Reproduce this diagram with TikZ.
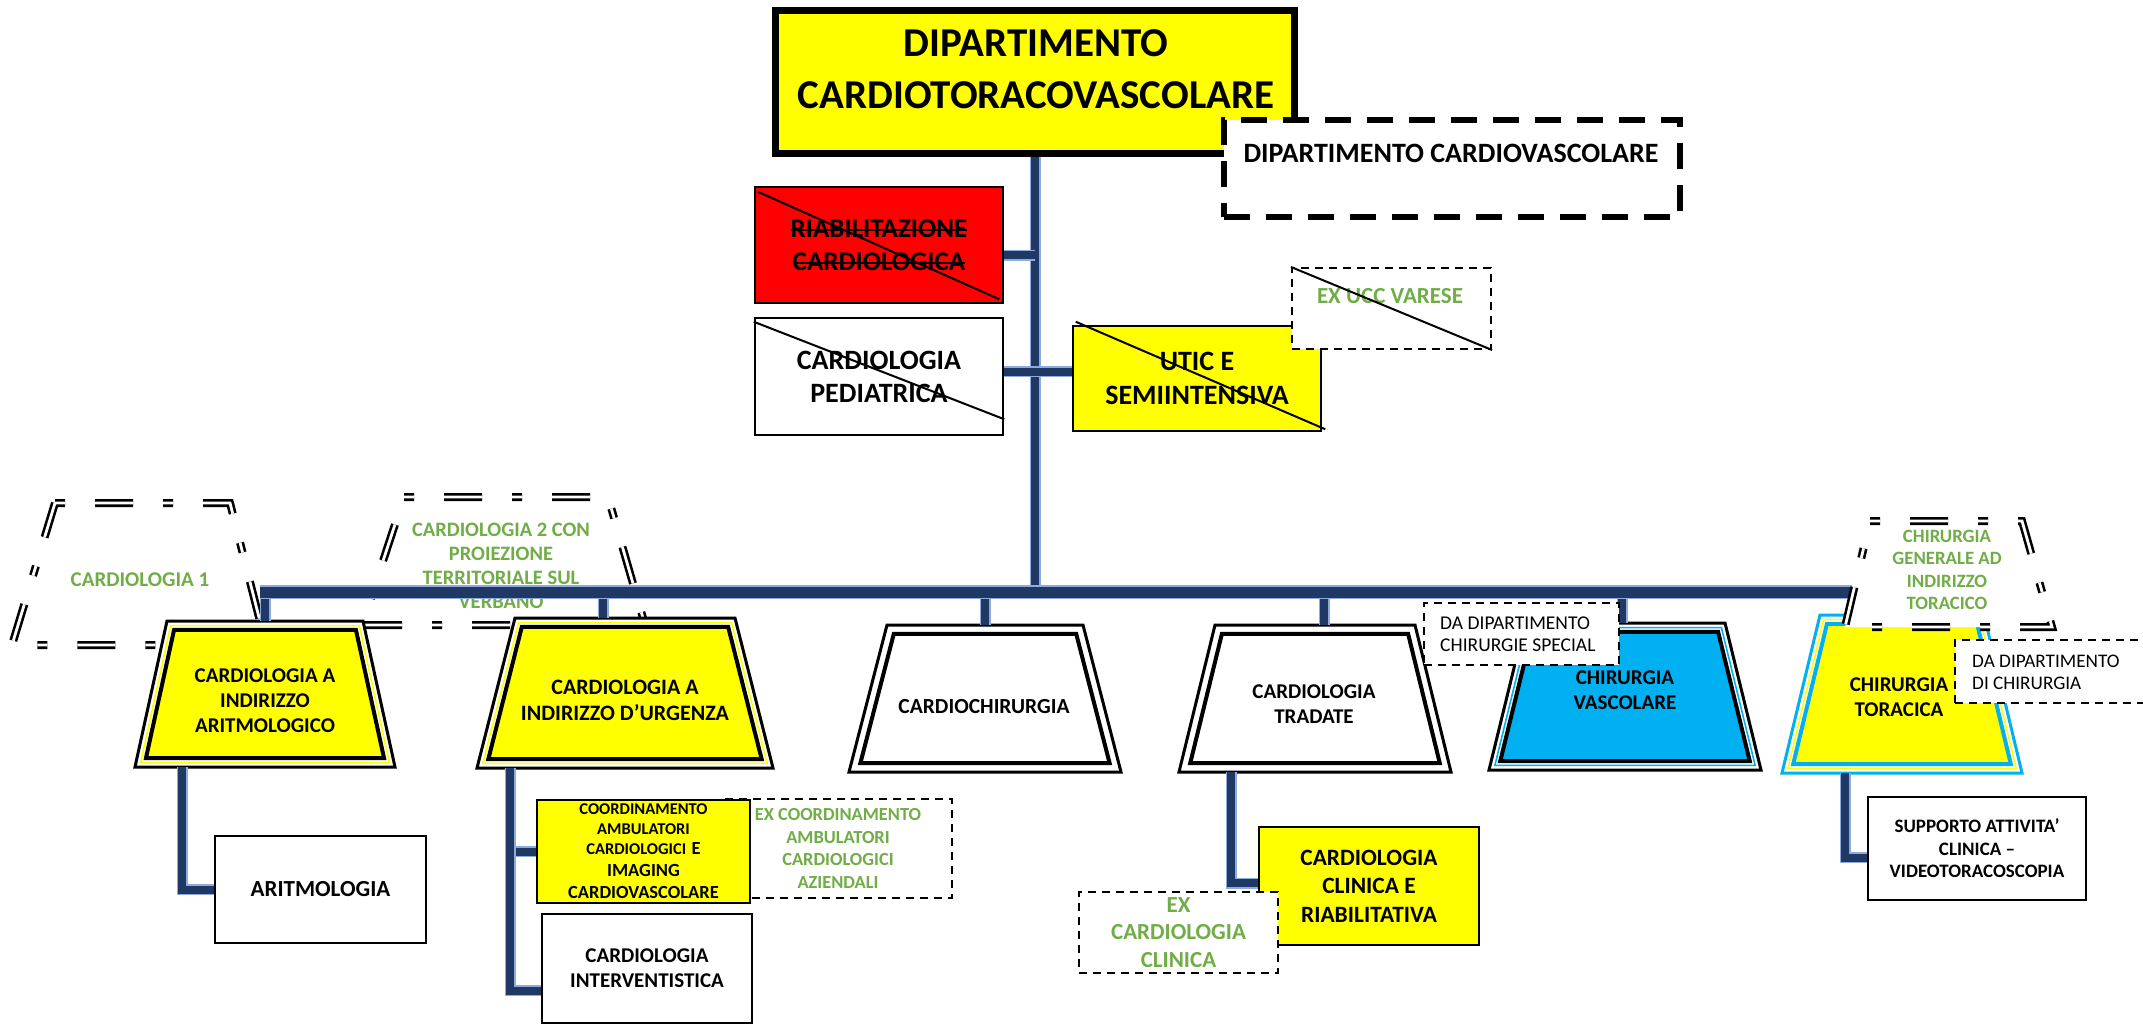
\documentclass[tikz,border=0pt]{standalone}
\usepackage{fontspec}
\setmainfont{Carlito}
\definecolor{ygold}{HTML}{FFFF00}
\definecolor{rred}{HTML}{FF0000}
\definecolor{cyanb}{HTML}{00B0F0}
\definecolor{gtext}{HTML}{70AD47}
\definecolor{pipecore}{HTML}{1F3864}
\definecolor{pipeedge}{HTML}{8FAADC}
\newcommand\fsz[2]{\fontsize{#1}{#2}\selectfont}
\newcommand\strk[1]{\setbox0\hbox{#1}\rlap{\vrule width \wd0 height 8.4pt depth -6.6pt}\box0}
\newcommand\trapcalc[6]{%
 \pgfmathsetmacro\trS{(#5-#4)/(#3-#2)}%
 \pgfmathsetmacro\trK{sqrt(1+\trS*\trS)}%
 \pgfmathsetmacro\trHT{#4+\trS*#6-#6*\trK}%
 \pgfmathsetmacro\trHB{#5-\trS*#6-#6*\trK}%
 \pgfmathsetmacro\trYT{#2+#6}%
 \pgfmathsetmacro\trYB{#3-#6}%
 \pgfmathsetmacro\trXL{#1-\trHT}%
 \pgfmathsetmacro\trXR{#1+\trHT}%
 \pgfmathsetmacro\trBL{#1-\trHB}%
 \pgfmathsetmacro\trBR{#1+\trHB}%
}
\newcommand\trapdraw[1]{\draw[#1] (\trXL,\trYT) -- (\trXR,\trYT) -- (\trBR,\trYB) -- (\trBL,\trYB) -- cycle;}
\newcommand\trapnode[9]{%
 \trapcalc{#2}{#3}{#4}{#5}{#6}{0}\trapdraw{draw=#7, line width=3pt, fill=white}%
 \trapcalc{#2}{#3}{#4}{#5}{#6}{4.6}\trapdraw{draw=#8, line width=1.6pt}%
 \trapcalc{#2}{#3}{#4}{#5}{#6}{8.8}\trapdraw{draw=#9, line width=4pt, fill=#8}%
 \node[inner sep=0pt, minimum width={2*#6}, minimum height={#4-#3}] (#1) at (#2,{(#3+#4)/2}) {};%
}
\tikzset{
 lbl/.style={align=center, inner sep=0pt},
 gtxt/.style={align=center, inner sep=0pt, text=gtext},
 sbox/.style={draw=black, line width=2.5pt, inner sep=0pt, align=center},
 dbox/.style={draw=black, line width=2pt, dash pattern=on 8pt off 6pt, fill=white, inner sep=0pt, align=center},
 ghost/.style={draw=black, line width=2.6pt, double=white, double distance=2.8pt, dash pattern=on 10pt off 30pt on 38pt off 30pt, fill=white},
 pipe/.style={draw=pipeedge, line width=1.5pt, double=pipecore, double distance=8pt},
 bigpipe/.style={draw=pipeedge, line width=1.8pt, double=pipecore, double distance=11pt},
 crossline/.style={draw=black, line width=2pt}
}
\begin{document}
\begin{tikzpicture}[x=1pt,y=-1pt]
\useasboundingbox[fill=white] (0,0) rectangle (2143,1026);
% ghost trapezoids
\draw[ghost] (55,503) -- (230,503) -- (266,645) -- (12,645) -- cycle;
\draw[ghost] (404,497) -- (608,497) -- (645,625) -- (362,625) -- cycle;
\node[gtxt, font=\bfseries\fsz{21}{25}] (card1) at (140,580) {CARDIOLOGIA 1};
\node[gtxt, font=\bfseries\fsz{20.5}{24}] (card2) at (501,566) {CARDIOLOGIA 2 CON\\PROIEZIONE\\TERRITORIALE SUL\\VERBANO};
% title
\node[draw=black, line width=7pt, fill=ygold, minimum width=519pt, minimum height=143pt, inner sep=0pt] (title) at (1035,82) {};
\node[lbl, font=\bfseries\fsz{41}{52}] (titletxt) at (1036,69) {DIPARTIMENTO\\CARDIOTORACOVASCOLARE};
\node[draw=black, line width=6pt, dash pattern=on 26pt off 16pt, fill=white, minimum width=456pt, minimum height=97pt, inner sep=0pt] (dcv) at (1452,168.5) {};
\node[lbl, font=\bfseries\fsz{28}{33}] (dcvtxt) at (1451,153) {DIPARTIMENTO CARDIOVASCOLARE};
% upper boxes
\node[sbox, fill=rred, minimum width=248pt, minimum height=116pt, font=\bfseries\fsz{27}{33}] (riab) at (879,245) {\strk{RIABILITAZIONE}\\\strk{CARDIOLOGICA}};
\draw[crossline] ([shift={(4,6)}]riab.north west) -- ([shift={(-5,-5)}]riab.south east);
\node[sbox, fill=white, minimum width=248pt, minimum height=117pt, font=\bfseries\fsz{28}{33}] (ped) at (879,376.5) {CARDIOLOGIA\\PEDIATRICA};
\draw[crossline] ([yshift=-5pt]ped.north west) -- ([yshift=17pt]ped.south east);
\node[sbox, fill=ygold, minimum width=248pt, minimum height=105pt, font=\bfseries\fsz{28}{34}] (utic) at (1197,378.5) {UTIC E\\SEMIINTENSIVA};
\draw[crossline] ([shift={(4,-3)}]utic.north west) -- ([shift={(3,-3)}]utic.south east);
\node[dbox, minimum width=199pt, minimum height=81pt] (exucc) at (1391.5,308.5) {};
\node[gtxt, font=\bfseries\fsz{23}{27}] (exucctxt) at (1390,296) {EX UCC VARESE};
\draw[crossline] (exucc.north west) -- (exucc.south east);
% trapezoids
\trapnode{aritm}{265}{621}{767}{98}{130}{black}{ygold}{black}
\node[lbl, font=\bfseries\fsz{21}{25}] (aritmtxt) at (265,701) {CARDIOLOGIA A\\INDIRIZZO\\ARITMOLOGICO};
\trapnode{urg}{625}{618}{768}{110}{148}{black}{ygold}{black}
\node[lbl, font=\bfseries\fsz{22}{26}] (urgtxt) at (625,700) {CARDIOLOGIA A\\INDIRIZZO D’URGENZA};
\trapnode{cchir}{985}{625}{772}{98}{136}{black}{white}{black}
\node[lbl, font=\bfseries\fsz{21.5}{25}] (cchirtxt) at (984,707) {CARDIOCHIRURGIA};
\trapnode{trad}{1315}{625}{772}{100}{136}{black}{white}{black}
\node[lbl, font=\bfseries\fsz{21}{25}] (tradtxt) at (1314,704) {CARDIOLOGIA\\TRADATE};
\trapnode{vasc}{1625}{623}{770}{100}{136}{black}{cyanb}{black}
\node[lbl, font=\bfseries\fsz{21}{25}] (vasctxt) at (1625,690) {CHIRURGIA\\VASCOLARE};
\trapnode{torac}{1902}{615}{773}{82}{120}{cyanb}{ygold}{cyanb}
\node[lbl, font=\bfseries\fsz{21}{25}] (toractxt) at (1899,697) {CHIRURGIA\\TORACICA};
% pipes
\coordinate (barL) at (260,592);
\coordinate (barR) at (1852,592);
\draw[pipe] (title.south) -- (title.south |- barL);
\draw[pipe] ([yshift=-10pt]riab.east) -- ([yshift=-10pt]riab.east -| title.south);
\draw[pipe] ([yshift=5pt]ped.east) -- ([yshift=5pt]ped.east -| utic.west);
\draw[pipe] (aritm.north |- barL) -- (aritm.north);
\draw[pipe] ([xshift=-22pt]urg.north |- barL) -- ([xshift=-22pt]urg.north);
\draw[pipe] (cchir.north |- barL) -- (cchir.north);
\draw[pipe] ([xshift=9pt]trad.north |- barL) -- ([xshift=9pt]trad.north);
\draw[pipe] ([xshift=-3pt]vasc.north |- barL) -- ([xshift=-3pt]vasc.north);
\draw[bigpipe] (barL) -- (barR);
\node[dbox, minimum width=195pt, minimum height=62pt] (dachs) at (1521.5,634) {};
\node[anchor=west, align=left, inner sep=0pt, font=\fsz{19.5}{22.5}] (dachstxt) at (1440,634) {DA DIPARTIMENTO\\CHIRURGIE SPECIAL};
% ghost C
\draw[ghost] (1870,521) -- (2022,521) -- (2052,627) -- (1845,627) -- cycle;
\node[gtxt, font=\bfseries\fsz{18.8}{22.5}] (cgen) at (1947,570) {CHIRURGIA\\GENERALE AD\\INDIRIZZO\\TORACICO};
\node[dbox, minimum width=200pt, minimum height=63pt] (dachir) at (2055,671.5) {};
\node[anchor=west, align=left, inner sep=0pt, font=\fsz{19.2}{22}] (dachirtxt) at (1972,672.5) {DA DIPARTIMENTO\\DI CHIRURGIA};
% lower boxes
\node[sbox, fill=white, minimum width=211pt, minimum height=107pt, font=\bfseries\fsz{23}{27}] (aritmo) at (320.5,889.5) {ARITMOLOGIA};
\node[dbox, minimum width=228pt, minimum height=99pt, text=gtext, font=\bfseries\fsz{18.4}{22.5}] (excoord) at (838,848.5) {EX COORDINAMENTO\\AMBULATORI\\CARDIOLOGICI\\AZIENDALI};
\node[sbox, fill=ygold, minimum width=213pt, minimum height=103pt, text width=205pt, font=\bfseries\fsz{16.5}{20}] (coord) at (643.5,851.5) {\centering COORDINAMENTO\\AMBULATORI\\CARDIOLOGICI {\fsz{18.5}{22}E}\par\fsz{18.5}{22}IMAGING\\CARDIOVASCOLARE\par};
\node[sbox, fill=white, minimum width=210pt, minimum height=109pt, font=\bfseries\fsz{21}{25}] (interv) at (647,968.5) {CARDIOLOGIA\\INTERVENTISTICA};
\node[sbox, fill=ygold, minimum width=220pt, minimum height=118pt, font=\bfseries\fsz{23.4}{28.5}] (clin) at (1369,886) {CARDIOLOGIA\\CLINICA E\\RIABILITATIVA};
\node[dbox, minimum width=199pt, minimum height=81pt, text=gtext, font=\bfseries\fsz{23}{27.5}] (exclin) at (1178.5,932.5) {EX\\CARDIOLOGIA\\CLINICA};
\node[sbox, fill=white, minimum width=218pt, minimum height=103pt, font=\bfseries\fsz{19}{22.5}] (supp) at (1977,848.5) {SUPPORTO ATTIVITA’\\CLINICA –\\VIDEOTORACOSCOPIA};
% branches
\draw[pipe] ([xshift=-83pt]aritm.south) |- (aritmo.west);
\draw[pipe] ([xshift=-115pt]urg.south) |- (coord.west);
\draw[pipe] ([xshift=-115pt]urg.south) |- ([yshift=-22pt]interv.west);
\draw[pipe] ([xshift=-84pt]trad.south) |- ([yshift=3pt]clin.west);
\draw[pipe] ([xshift=-57pt]torac.south) |- ([yshift=-9pt]supp.west);
\end{tikzpicture}
\end{document}
